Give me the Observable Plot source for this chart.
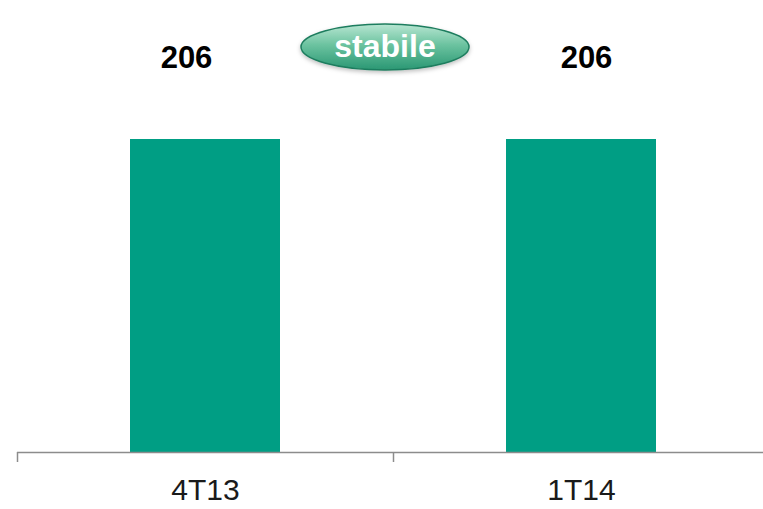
<!DOCTYPE html>
<html>
<head>
<meta charset="utf-8">
<script src="https://cdn.jsdelivr.net/npm/d3@7"></script>
<script src="https://cdn.jsdelivr.net/npm/@observablehq/plot@0.6"></script>
<style>
  html, body { margin: 0; padding: 0; background: #fff; }
  #chart svg { display: block; }
</style>
</head>
<body>
<div id="chart"></div>
<script>
const categories = ["4T13", "1T14"];
const values = [206, 206];
const badgeText = "stabile";

const data = categories.map((c, i) => ({category: c, value: values[i]}));

const chart = Plot.plot({
  width: 763,
  height: 509,
  marginLeft: 17,
  marginRight: 0,
  marginTop: 0,
  marginBottom: 57,
  x: {type: "band", domain: categories, range: [17, 769], paddingInner: 0.6, paddingOuter: 0.3, label: null},
  y: {domain: [0, 206], range: [452, 139], axis: null},
  marks: [
    Plot.barY(data, {x: "category", y: "value", fill: "#009e84"}),
    Plot.ruleY([0], {stroke: "#8c8c8c", strokeWidth: 1.5}),
    Plot.axisX({tickSize: 10, dx: -188, tickFormat: () => "", stroke: "#8c8c8c", strokeWidth: 1.5}),
    Plot.axisX({tickSize: 0, tickPadding: 26, fontSize: 30, fill: "#1a1a1a",
      style: {fontFamily: "'Liberation Sans', Arial, sans-serif"}}),
    Plot.text(data.filter(d => d.category === categories[0]), {x: "category", y: "value", text: d => String(d.value),
      dy: -81, dx: -19, fontSize: 31, fontWeight: "bold", fill: "#000"}),
    Plot.text(data.filter(d => d.category === categories[1]), {x: "category", y: "value", text: d => String(d.value),
      dy: -81, dx: 5, fontSize: 31, fontWeight: "bold", fill: "#000"})
  ],
  style: {fontFamily: "'Liberation Sans', Arial, sans-serif", background: "#fff"}
});

// Badge annotation
const svg = d3.select(chart);
const defs = svg.append("defs");
const grad = defs.append("linearGradient").attr("id", "badgeGrad")
  .attr("x1", 0).attr("y1", 0).attr("x2", 0).attr("y2", 1);
grad.append("stop").attr("offset", "0%").attr("stop-color", "#b8e6d2");
grad.append("stop").attr("offset", "45%").attr("stop-color", "#6cc3a0");
grad.append("stop").attr("offset", "100%").attr("stop-color", "#2a9773");
const filt = defs.append("filter").attr("id", "badgeShadow").attr("x", "-20%").attr("y", "-20%").attr("width", "140%").attr("height", "160%");
filt.append("feDropShadow").attr("dx", 0).attr("dy", 2).attr("stdDeviation", 2).attr("flood-color", "#000").attr("flood-opacity", 0.25);
const g = svg.append("g");
g.append("ellipse").attr("cx", 385).attr("cy", 47).attr("rx", 84).attr("ry", 23)
  .attr("fill", "url(#badgeGrad)").attr("stroke", "#1f7d5e").attr("stroke-width", 1.5)
  .attr("filter", "url(#badgeShadow)");
g.append("text").attr("x", 385).attr("y", 46).attr("dy", "0.35em")
  .attr("text-anchor", "middle").attr("fill", "#fff")
  .attr("font-family", "'Liberation Sans', Arial, sans-serif")
  .attr("font-weight", "bold").attr("font-size", 32).text(badgeText);

document.getElementById("chart").appendChild(chart);
</script>
</body>
</html>
